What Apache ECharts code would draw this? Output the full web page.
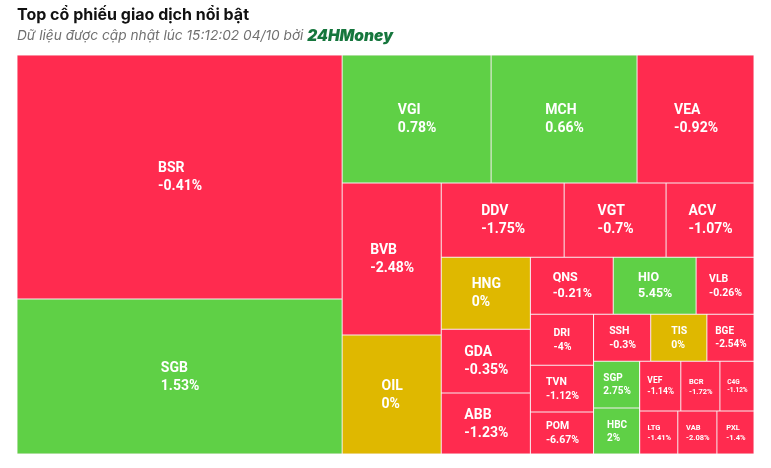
<!DOCTYPE html>
<html>
<head>
<meta charset="utf-8">
<script src="https://cdn.jsdelivr.net/npm/echarts@6/dist/echarts.min.js"></script>
<style>
html,body{margin:0;padding:0;background:#fff;}
#chart{width:771px;height:468px;}
</style>
</head>
<body>
<div id="chart"></div>
<script>
// ---- data ----
const codes   = ['BSR','SGB','VGI','MCH','VEA','BVB','OIL','DDV','VGT','ACV','HNG','GDA','ABB','QNS','HIO','VLB','DRI','TVN','POM','SSH','TIS','BGE','SGP','HBC','VEF','BCR','C4G','LTG','VAB','PXL'];
const changes = [-0.41, 1.53, 0.78, 0.66, -0.92, -2.48, 0, -1.75, -0.7, -1.07, 0, -0.35, -1.23, -0.21, 5.45, -0.26, -4, -1.12, -6.67, -0.3, 0, -2.54, 2.75, 2, -1.14, -1.72, -1.12, -1.41, -2.08, -1.4];
const volumes = [79300, 50375, 19072, 18688, 14976, 15048, 11781, 9102, 7548, 6512, 6408, 5696, 5429, 4731, 4731, 3306, 3213, 2961, 2646, 2679, 2632, 2209, 2162, 2116, 2050, 1950, 1700, 1634, 1677, 1591];
// grouping of the tiles (hierarchy only)
const groups = ['BSR','SGB',[['VGI','MCH','VEA'],['BVB','OIL',[['DDV','VGT','ACV'],['HNG','GDA','ABB',[['QNS','HIO','VLB'],['DRI','TVN','POM',[['SSH','TIS','BGE'],['SGP','HBC',[[['VEF','BCR'],'C4G'],['LTG','VAB','PXL']]]]]]]]]]];
const titleText = 'Top cổ phiếu giao dịch nổi bật';
const subText = 'Dữ liệu được cập nhật lúc 15:12:02 04/10 bởi ';
const brandText = '24HMoney';

const RED = '#FF2B4F', GREEN = '#5FD046', YELLOW = '#DFB800';
function colorOf(c){ return c > 0 ? GREEN : (c < 0 ? RED : YELLOW); }
function pct(c){ return c + '%'; }
const ctx = document.createElement('canvas').getContext('2d');
function textW(t, fs){ ctx.font = 'bold ' + fs + 'px Roboto'; return ctx.measureText(t).width; }
function fontOf(w){ if (w >= 85) return 14; if (w >= 75) return 12.5; if (w >= 55) return 10.5; if (w >= 44) return 10; if (w >= 40) return 8.5; if (w >= 36) return 7.5; return 6.5; }

function build(spec, sizes){
  if (typeof spec === 'string'){
    const i = codes.indexOf(spec);
    const node = {name: spec, value: volumes[i], change: changes[i],
      itemStyle: {color: colorOf(changes[i]), borderWidth: 0.5, borderColor: '#f7eef0'}};
    if (sizes && sizes[spec]){
      const cw = sizes[spec].width, ch = sizes[spec].height;
      const fs = fontOf(cw);
      const lh = Math.round(fs * 1.3);
      const w = Math.max(textW(spec, fs), textW(pct(changes[i]), fs));
      const st = {align: 'left', fontSize: fs, lineHeight: lh, fontWeight: 'bold', color: '#fff', fontFamily: 'Roboto'};
      node.label = {
        padding: [Math.max(0, (ch - 2 * lh) / 2), 0, 0, Math.max(0, (cw - w) / 2)],
        rich: {c: st, p: st}
      };
    }
    return node;
  }
  const children = spec.map(s => build(s, sizes));
  return {name: '', value: children.reduce((a, c) => a + c.value, 0), children: children, itemStyle: {borderWidth: 0, gapWidth: 0}};
}

const chart = echarts.init(document.getElementById('chart'));
function makeOption(sizes){
  return {
    animation: false,
    title: {
      text: titleText,
      left: 17, top: 7, padding: 0, itemGap: 5,
      textStyle: {fontSize: 16, fontWeight: 'bold', color: '#111', fontFamily: 'Inter'},
      subtext: '{a|' + subText + '}{b|' + brandText + '}',
      subtextStyle: {
        rich: {
          a: {fontSize: 13.7, fontStyle: 'italic', color: '#707070', fontFamily: 'Inter'},
          b: {fontSize: 15.5, fontStyle: 'italic', fontWeight: 900, color: '#16763d', fontFamily: 'Inter'}
        }
      }
    },
    series: [{
      type: 'treemap', left: 17, top: 55, width: 737, height: 399,
      sort: false, roam: false, nodeClick: false, breadcrumb: {show: false},
      itemStyle: {borderWidth: 0, gapWidth: 0, borderColor: '#fff'},
      label: {show: true, position: 'inside', color: '#fff', padding: 0, overflow: 'none',
        formatter: p => '{c|' + p.name + '}\n{p|' + pct(p.data.change) + '}'},
      data: build(groups, sizes).children
    }]
  };
}
chart.setOption(makeOption(null));
// second pass: size and centre labels from the layout ECharts computed
const sizes = {};
try {
  const root = chart.getModel().getSeriesByIndex(0).getData().tree.root;
  (function walk(n){ const l = n.getLayout(); if (n.name && l) sizes[n.name] = {width: l.width, height: l.height}; (n.children || []).forEach(walk); })(root);
} catch(e){}
chart.setOption(makeOption(sizes), true);
</script>
</body>
</html>
